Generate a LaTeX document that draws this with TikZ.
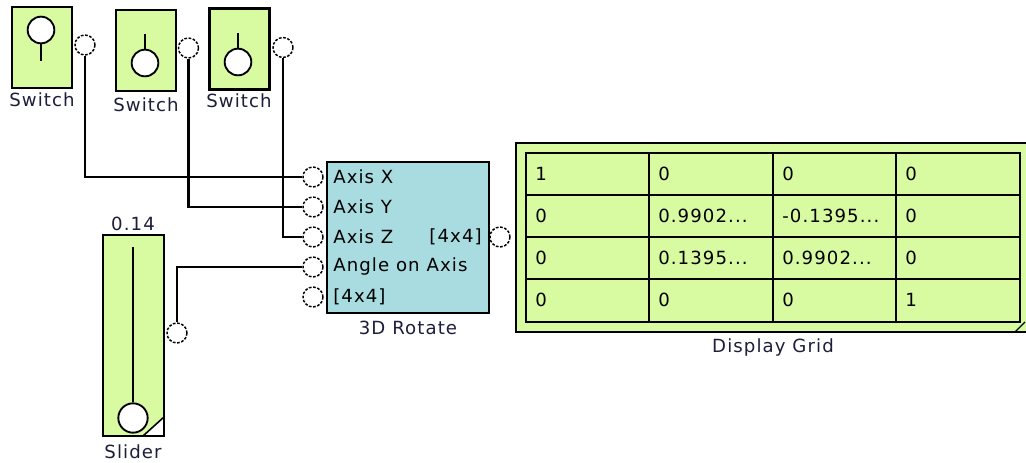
\documentclass[tikz,border=0pt]{standalone}
\usepackage{fontspec}
\setmainfont{DejaVu Sans}[LetterSpace=6]
\usetikzlibrary{positioning}
\definecolor{blockgreen}{RGB}{216,250,160}
\definecolor{rotateblue}{RGB}{168,220,224}
\definecolor{labelink}{RGB}{30,30,60}
\newcommand{\cut}{.{}.{}.}
\tikzstyle{block} = [
    rectangle,
    fill=blockgreen,
    draw=black,
    line width=1.6pt,
    inner sep=0pt
]
\tikzstyle{switchbox} = [
    block,
    minimum width=45pt,
    minimum height=60.75pt
]
\tikzstyle{port} = [
    circle,
    dash pattern=on 2pt off 1.2pt,
    draw=black,
    fill=white,
    line width=1.1pt,
    minimum size=15pt,
    inner sep=0pt
]
\tikzstyle{knob} = [
    circle,
    draw=black,
    fill=white,
    line width=1.4pt,
    inner sep=0pt
]
\tikzstyle{caption} = [text=labelink, inner sep=0pt]
\tikzstyle{inlabel} = [anchor=west, inner sep=0pt]
\tikzstyle{wire} = [line width=1.6pt]

\begin{document}
\begin{tikzpicture}[x=0.75pt, y=-0.75pt, font=\fontsize{13.6}{15}\selectfont]
\useasboundingbox [fill=white] (0,0) rectangle (1026,463);

% switches
\node (sw1) [switchbox] at (42,47.5) {};
\node (sw1knob) [knob, minimum size=20pt] at (41,30) {};
\draw [wire] (sw1knob.south) -- ++(0,17);
\node (sw1label) [caption] at (42,100) {Switch};
\node (p1) [port] at (85,45) {};

\node (sw2) [switchbox] at (146,50.5) {};
\node (sw2knob) [knob, minimum size=20pt] at (145,63) {};
\draw [wire] (sw2knob.north) -- ++(0,-15);
\node (sw2label) [caption] at (146,105) {Switch};
\node (p2) [port] at (188.5,48) {};

\node (sw3) [switchbox] at (239.5,49) {};
\node (sw3knob) [knob, minimum size=20pt] at (238,62) {};
\draw [wire] (sw3knob.north) -- ++(0,-15);
\node (sw3label) [caption] at (239,101) {Switch};
\node (p3) [port] at (283,47.5) {};

% slider
\node (slider) [block, minimum width=45.75pt, minimum height=150.75pt] at (133.5,335.5) {};
\node (sliderknob) [knob, minimum size=22pt] at (133,418) {};
\draw [wire] (sliderknob.north) -- (133,247);
\draw [line width=1.2pt, fill=white] (164,417) -- (164,436) -- (143,436) -- cycle;
\node (slidervalue) [caption] at (133,224) {0.14};
\node (sliderlabel) [caption] at (133,452) {Slider};
\node (ps) [port] at (177,333) {};

% 3D rotate
\node (rotate) [block, fill=rotateblue, minimum width=121.5pt, minimum height=113.25pt] at (408,237.5) {};
\node (ax) [port] at (313,177) {};
\node (ay) [port] at (313,207) {};
\node (az) [port] at (313,237) {};
\node (ang) [port] at (313,267) {};
\node (min) [port] at (313,297) {};
\node [inlabel] at (333,177) {Axis X};
\node [inlabel] at (333,207) {Axis Y};
\node [inlabel] at (333,237) {Axis Z};
\node [inlabel] at (333,267) {Angle on Axis};
\node [inlabel] at (333,297) {[4x4]};
\node [anchor=east, inner sep=0pt] at (482,237) {[4x4]};
\node (rotatelabel) [caption] at (408,328) {3D Rotate};
\node (out) [port] at (500,237) {};

% display grid
\node (grid) [block, minimum width=393pt, minimum height=141.75pt, line width=1.9pt] at (778,237.5) {};
\draw [line width=1.3pt] (526,153) rectangle (1020,322);
\foreach \x in {649,773,896} \draw [line width=1.3pt] (\x,153) -- (\x,322);
\foreach \y in {195,237,279} \draw [line width=1.3pt] (526,\y) -- (1020,\y);
\foreach \x/\y/\val in {
    535/174/1, 658/174/0, 782/174/0, 905/174/0,
    535/216/0, 658/216/0.9902\cut, 782/216/-0.1395\cut, 905/216/0,
    535/258/0, 658/258/0.1395\cut, 782/258/0.9902\cut, 905/258/0,
    535/300/0, 658/300/0, 782/300/0, 905/300/1}
    \node [inlabel] at (\x,\y) {\val};
\draw [line width=0.9pt] (1015,332) -- (1025,322);
\node (gridlabel) [caption] at (773,347) {Display Grid};

% wires
\draw [wire] (p1.south) |- (ax.west);
\draw [wire] (p2.south) |- (ay.west);
\draw [wire] (p3.south) |- (az.west);
\draw [wire] (ps.north) |- (ang.west);

\end{tikzpicture}
\end{document}
